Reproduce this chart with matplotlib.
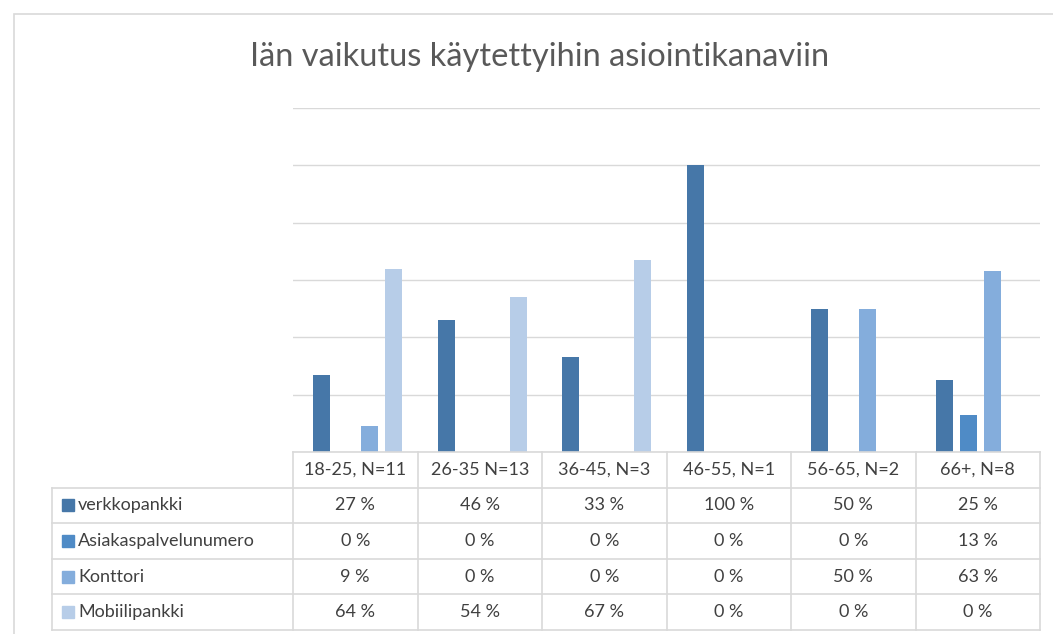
import numpy as np
import matplotlib.pyplot as plt
from matplotlib.patches import Rectangle

# %% data
categories = ['18-25, N=11', '26-35 N=13', '36-45, N=3', '46-55, N=1', '56-65, N=2', '66+, N=8']
series = ['verkkopankki', 'Asiakaspalvelunumero', 'Konttori', 'Mobiilipankki']
verkkopankki = [27, 46, 33, 100, 50, 25]
asiakaspalvelunumero = [0, 0, 0, 0, 0, 13]
konttori = [9, 0, 0, 0, 50, 63]
mobiilipankki = [64, 54, 67, 0, 0, 0]
values = [verkkopankki, asiakaspalvelunumero, konttori, mobiilipankki]
colors = ['#4677A8', '#4F8BC6', '#84ADDC', '#B7CDE8']

W, H = 1053, 634
fig = plt.figure(figsize=(W / 100, H / 100), dpi=100)
plt.rcParams['font.family'] = ['Lato', 'DejaVu Sans']

def box(x0, y0, x1, y1):
    '''pixel box (top-left origin) -> figure fraction rect'''
    return [x0 / W, 1 - y1 / H, (x1 - x0) / W, (y1 - y0) / H]

# chart frame
fig.patches.append(Rectangle((14 / W, -0.1), 1.2, 1 - 14 / H + 0.1, transform=fig.transFigure,
                             fill=False, edgecolor='#d9d9d9', lw=1.2))

fig.text(540 / W, 1 - 57 / H, 'Iän vaikutus käytettyihin asiointikanaviin',
         ha='center', va='center', fontsize=23.5, color='#595959')

# %% bars
ax = fig.add_axes(box(293, 108, 1040, 452))
x = np.arange(len(categories))
step, bw = 0.193, 0.137
for k, (vals, c) in enumerate(zip(values, colors)):
    ax.bar(x + (k - 1.5) * step + 0.02, np.array(vals) / 100, width=bw, color=c, zorder=3)
ax.set_xlim(-0.5, len(categories) - 0.5)
ax.set_ylim(0, 1.2)
ax.set_yticks(np.arange(0, 1.21, 0.2))
ax.yaxis.grid(True, color='#d9d9d9', lw=1)
ax.tick_params(left=False, bottom=False, labelleft=False, labelbottom=False)
for s in ax.spines.values():
    s.set_visible(False)

# %% data table
tab = fig.add_axes(box(52, 452, 1040, 630))
lab_w = (293 - 52) / (747 / 6)
n = len(categories)
tab.set_xlim(-lab_w, n)
tab.set_ylim(len(series) + 1, 0)
tab.axis('off')
lc = '#d9d9d9'
for r in range(len(series) + 2):
    tab.plot([0 if r == 0 else -lab_w, n], [r, r], color=lc, lw=1.2, clip_on=False)
for c in range(n + 1):
    tab.plot([c, c], [0, len(series) + 1], color=lc, lw=1.2, clip_on=False)
tab.plot([-lab_w, -lab_w], [1, len(series) + 1], color=lc, lw=1.2, clip_on=False)
fs = 13
for c, cat in enumerate(categories):
    tab.text(c + 0.5, 0.5, cat, ha='center', va='center', fontsize=fs, color='#404040')
for r, (name, vals, col) in enumerate(zip(series, values, colors)):
    y = r + 1.5
    tab.add_patch(Rectangle((-lab_w + 0.08, y - 0.17), 0.1, 0.34, color=col, clip_on=False))
    tab.text(-lab_w + 0.21, y, name, ha='left', va='center', fontsize=fs, color='#404040')
    for c, v in enumerate(vals):
        tab.text(c + 0.5, y, f'{v} %', ha='center', va='center', fontsize=fs, color='#404040')

fig.savefig('out.png', dpi=100)
